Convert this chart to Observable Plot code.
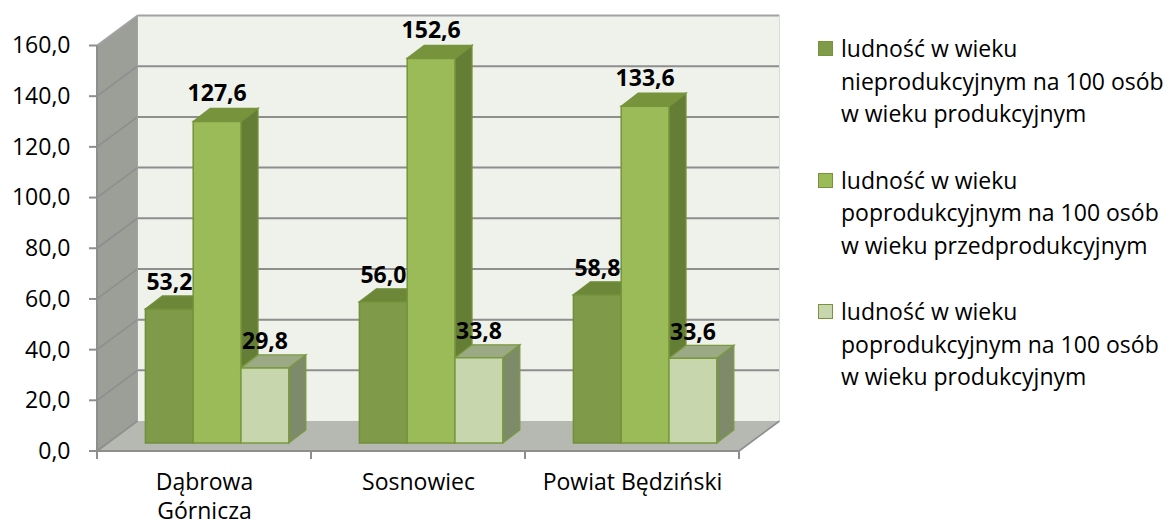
<!DOCTYPE html>
<html>
<head>
<meta charset="utf-8">
<script src="https://cdn.jsdelivr.net/npm/d3@7"></script>
<script src="https://cdn.jsdelivr.net/npm/@observablehq/plot@0.6"></script>
<style>
  html, body { margin: 0; padding: 0; background: #fff; }
  #wrap { position: relative; width: 1169px; height: 527px; font-family: "Open Sans", Lato, sans-serif; }
  #chart { position: absolute; left: 0; top: 0; }
  .leg { position: absolute; left: 818px; font-size: 23px; line-height: 32.5px; color: #000; }
  .leg .sw { position: absolute; left: 0; top: 9px; width: 13px; height: 13px; border: 1.5px solid #77933C; }
  .leg .tx { position: absolute; left: 23px; top: 0; white-space: nowrap; }
</style>
</head>
<body>
<div id="wrap"><div id="chart"></div></div>
<script>
// ---- data ----
const categories = ["Dąbrowa Górnicza", "Sosnowiec", "Powiat Będziński"];
const categoryLabels = ["Dąbrowa\nGórnicza", "Sosnowiec", "Powiat Będziński"];
const seriesNames = [
  "ludność w wieku\nnieprodukcyjnym na 100 osób\nw wieku produkcyjnym",
  "ludność w wieku\npoprodukcyjnym na 100 osób\nw wieku przedprodukcyjnym",
  "ludność w wieku\npoprodukcyjnym na 100 osób\nw wieku produkcyjnym"
];
const nieprodukcyjnyNaProdukcyjny = [53.2, 56.0, 58.8];
const poprodukcyjnyNaPrzedprodukcyjny = [127.6, 152.6, 133.6];
const poprodukcyjnyNaProdukcyjny = [29.8, 33.8, 33.6];
const yTicks = [0, 20, 40, 60, 80, 100, 120, 140, 160];

// ---- styles ----
const seriesValues = [nieprodukcyjnyNaProdukcyjny, poprodukcyjnyNaPrzedprodukcyjny, poprodukcyjnyNaProdukcyjny];
const faceColors = [
  {front: "#7F9A48", top: "#6C8738", side: "#5E7631", stroke: "#71903A"},
  {front: "#9BBB59", top: "#77943D", side: "#657E35", stroke: "#77933C"},
  {front: "#C8D6AE", top: "#9BA985", side: "#7E8B6B", stroke: "#7A9A3F"}
];

const table = [];
categories.forEach((c, ci) => seriesValues.forEach((vals, si) => table.push({category: c, series: si, value: vals[ci]})));

// ---- layout ----
const W = 800, H = 527, ML = 96, XR = 740.5, MT = 45.5, Y0PX = 451;
const MR = W - XR, MB = H - Y0PX;
const BWIDTH = (XR - ML) / categories.length;
const DEPTH = [40.5, -30];       // wall depth
const BAR_D = [17, -13];         // bar depth
const BAR_OFF = 48.4, BAR_W = 47.8, BAR_SHIFT = -8, BAR_K = 0.9945;
const FONT = "'Open Sans', Lato, sans-serif";
const fmt = d => d.toFixed(1).replace(".", ",");

function scene(index, scales, values, dims) {
  const x = scales.x, y = scales.y;
  const bw = (x.bandwidth ? x.bandwidth() : BWIDTH);
  const g = d3.create("svg:g");
  const x0 = x(categories[0]), x1 = x(categories[categories.length - 1]) + bw;
  const yb = y(0), yt = y(160);
  const [dx, dy] = DEPTH;
  const poly = (pts, fill, stroke, sw) => g.append("polygon").attr("points", pts.map(p => p.join(",")).join(" "))
    .attr("fill", fill).attr("stroke", stroke || "none").attr("stroke-width", sw || 0).attr("stroke-linejoin", "miter");
  const line = (a, b, stroke, sw) => g.append("line").attr("x1", a[0]).attr("y1", a[1]).attr("x2", b[0]).attr("y2", b[1])
    .attr("stroke", stroke).attr("stroke-width", sw);
  // back wall
  poly([[x0 + dx, yt + dy], [x1 + dx, yt + dy], [x1 + dx, yb + dy], [x0 + dx, yb + dy]], "#EFF1EB");
  // left wall
  poly([[x0, yb], [x0, yt], [x0 + dx, yt + dy], [x0 + dx, yb + dy]], "#9C9E98");
  // floor
  poly([[x0, yb], [x1, yb], [x1 + dx, yb + dy], [x0 + dx, yb + dy]], "#B6B8B2");
  // gridlines
  for (const v of yTicks) {
    const yy = y(v);
    const col = v === 160 ? "#A3A3A3" : "#8E8E8E";
    if (v > 0) line([x0 + dx, yy + dy], [x1 + dx, yy + dy], col, 2);
    line([x0, yy], [x0 + dx, yy + dy], col, 1.6);
  }
  line([x0 + dx, yt + dy], [x0 + dx, yb + dy], "#A3A3A3", 1);
  line([x1 + dx, yt + dy], [x1 + dx, yb + dy], "#DADCD6", 1);
  line([x1, yb], [x1 + dx, yb + dy], "#8E8E8E", 1.6);
  // y axis line and ticks
  line([x0, yb + 1], [x0, yt], "#8E8E8E", 2);
  for (const v of yTicks) line([x0 - 8, y(v)], [x0, y(v)], "#8E8E8E", 2);
  // x axis line and boundary ticks
  line([x0, yb], [x1, yb], "#8E8E8E", 2);
  for (let i = 0; i <= categories.length; i++) {
    const xx = i < categories.length ? x(categories[i]) : x1;
    line([xx, yb], [xx, yb + 8], "#8E8E8E", 2);
  }
  // bars
  const ybar = v => yb + BAR_SHIFT + (y(v) - yb) * BAR_K;
  const [bdx, bdy] = BAR_D;
  for (const r of table) {
    const c = faceColors[r.series];
    const L = x(r.category) + BAR_OFF + r.series * BAR_W, R = L + BAR_W;
    const T = ybar(r.value), B = ybar(0);
    poly([[R, T], [R + bdx, T + bdy], [R + bdx, B + bdy], [R, B]], c.side, c.stroke, 1.3);
    poly([[L, T], [L + bdx, T + bdy], [R + bdx, T + bdy], [R, T]], c.top, c.stroke, 1.3);
    poly([[L, T], [R, T], [R, B], [L, B]], c.front, c.stroke, 1.5);
  }
  return g.node();
}

const labelMarks = seriesValues.map((vals, si) => Plot.text(table.filter(d => d.series === si), {
  x: "category", y: "value", text: d => fmt(d.value),
  dx: BAR_OFF + si * BAR_W + BAR_W / 2 - BWIDTH / 2, dy: -34,
  fontSize: 23, fontWeight: "bold", fill: "#000"
}));

const chart = Plot.plot({
  width: W, height: H,
  marginLeft: ML, marginRight: MR, marginTop: MT, marginBottom: MB,
  style: {fontFamily: FONT, fontSize: "23px", color: "#000", background: "transparent", overflow: "visible"},
  x: {type: "band", domain: categories, padding: 0, label: null},
  y: {domain: [0, 160], label: null},
  marks: [
    scene,
    Plot.axisY({ticks: yTicks, tickFormat: fmt, tickSize: 0, tickPadding: 26, fontSize: 23, fill: "#000", label: null}),
    Plot.axisX({tickSize: 0, tickPadding: 18, fontSize: 23, lineHeight: 1.27, fill: "#000", label: null,
      tickFormat: d => categoryLabels[categories.indexOf(d)]}),
    ...labelMarks
  ]
});
document.getElementById("chart").appendChild(chart);

// legend
const wrap = document.getElementById("wrap");
seriesNames.forEach((name, i) => {
  const item = document.createElement("div");
  item.className = "leg";
  item.style.top = (32 + i * 131.5) + "px";
  const sw = document.createElement("div");
  sw.className = "sw";
  sw.style.background = faceColors[i].front;
  const tx = document.createElement("div");
  tx.className = "tx";
  tx.innerHTML = name.split("\n").map(s => s.replace(/&/g, "&amp;")).join("<br>");
  item.appendChild(sw); item.appendChild(tx);
  wrap.appendChild(item);
});
</script>
</body>
</html>
